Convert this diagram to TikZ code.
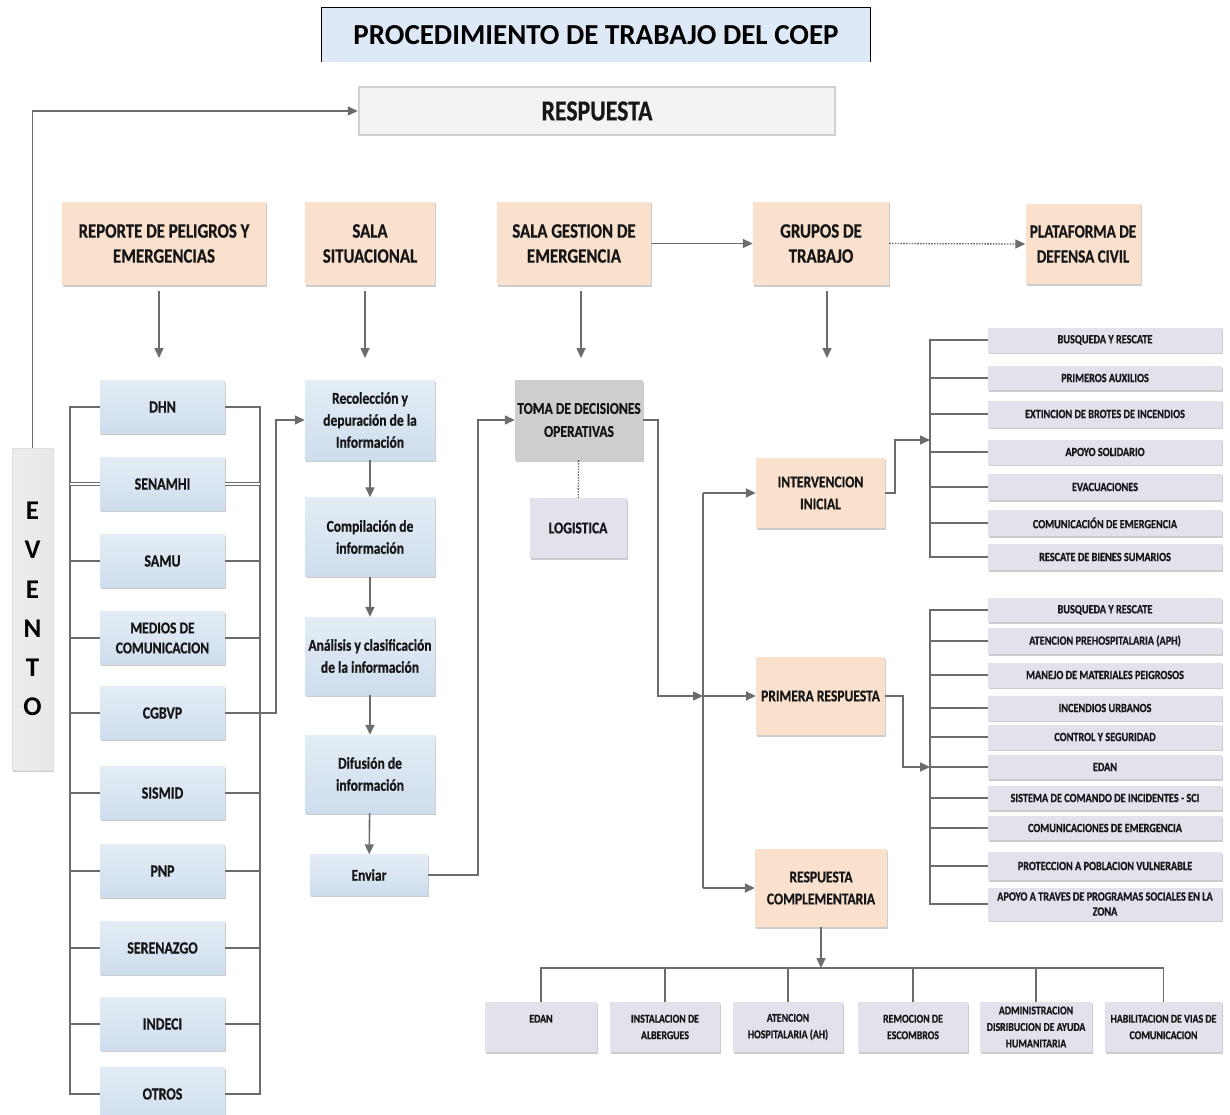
\documentclass[tikz,border=0pt]{standalone}
\usepackage{fontspec}
\setmainfont{Carlito}
\newfontfamily\cn[FakeStretch=0.82,FakeBold=0.6]{Carlito}
\usetikzlibrary{arrows.meta,shadows}
\definecolor{peach}{RGB}{249,225,206}
\definecolor{blueT}{RGB}{228,237,246}
\definecolor{blueB}{RGB}{206,221,237}
\definecolor{lav}{RGB}{228,224,236}
\definecolor{tgrey}{RGB}{206,206,206}
\definecolor{lgrey}{RGB}{243,243,243}
\definecolor{evg}{RGB}{232,232,232}
\definecolor{lnc}{RGB}{108,108,108}
\definecolor{txt}{RGB}{22,22,22}
\definecolor{ttl}{RGB}{221,233,246}
\tikzset{
 nbase/.style={inner sep=0pt, align=center, text=txt, drop shadow={shadow xshift=1.2pt, shadow yshift=-1.5pt, opacity=0.2, fill=black}},
 orangebox/.style={nbase, fill=peach, font=\cn\bfseries\fontsize{20.5}{25}\selectfont},
 srcbox/.style={nbase, top color=blueT, bottom color=blueB, minimum width=125pt, minimum height=53pt, font=\cn\bfseries\fontsize{17}{21}\selectfont},
 procbox/.style={nbase, top color=blueT, bottom color=blueB, minimum width=130pt, font=\cn\bfseries\fontsize{16.5}{22}\selectfont},
 phasebox/.style={nbase, fill=peach, font=\cn\bfseries\fontsize{16.5}{22}\selectfont},
 itembox/.style={nbase, fill=lav, minimum width=234pt, font=\cn\bfseries\fontsize{12.5}{14}\selectfont},
 botbox/.style={nbase, fill=lav, minimum height=50pt, font=\cn\bfseries\fontsize{12}{16.5}\selectfont},
 conn/.style={draw=lnc, line width=1.6pt},
 arr/.style={conn, -{Triangle[length=10pt,width=9pt]}},
 dotconn/.style={draw=lnc, line width=1.3pt, dash pattern=on 1.6pt off 1.2pt},
}
\begin{document}
\begin{tikzpicture}[x=1pt,y=-1pt]
\useasboundingbox (0,0) rectangle (1230,1115);
\fill[white] (0,0) rectangle (1230,1115);

% title
\node[fill=ttl, minimum width=548pt, minimum height=54pt, inner sep=0pt, font=\bfseries\fontsize{29}{32}\selectfont] (title) at (596,35) {PROCEDIMIENTO DE TRABAJO DEL COEP};
\draw[black, line width=0.8pt] (title.south west) -- (title.north west) -- (title.north east) -- (title.south east);

% respuesta
\node[fill=lgrey, draw=black!18, line width=2.5pt, minimum width=476pt, minimum height=48pt, inner sep=0pt, text=txt, font=\cn\bfseries\fontsize{29}{32}\selectfont] (resp) at (597,111) {RESPUESTA};

% evento
\node[nbase, left color=evg!80, right color=evg, draw=black!12, line width=0.6pt, minimum width=41pt, minimum height=322pt, text=black, font=\bfseries\fontsize{27}{39.2}\selectfont] (ev) at (32.5,609) {E\\V\\E\\N\\T\\O};

% top row
\node[orangebox, minimum width=204pt, minimum height=83pt] (rep) at (164,243.5) {REPORTE DE PELIGROS Y\\EMERGENCIAS};
\node[orangebox, minimum width=130pt, minimum height=83pt] (ss) at (370,243.5) {SALA\\SITUACIONAL};
\node[orangebox, minimum width=154pt, minimum height=83pt] (sg) at (574,243.5) {SALA GESTION DE\\EMERGENCIA};
\node[orangebox, minimum width=136pt, minimum height=83pt] (gt) at (821,243.5) {GRUPOS DE\\TRABAJO};
\node[orangebox, minimum width=115pt, minimum height=80pt, font=\cn\bfseries\fontsize{18.5}{25}\selectfont] (pl) at (1083,244) {PLATAFORMA DE\\DEFENSA CIVIL};

\draw[arr] (sg.east) -- (gt.west);
\draw[dotconn, -{Triangle[length=10pt,width=9pt]}] (gt.east) -- (pl.west);

\coordinate (d1) at (159,358);
\coordinate (d2) at (365,358);
\coordinate (d3) at (581,358);
\coordinate (d4) at (827,358);
\draw[arr] (rep.south -| d1) ++(0,6) -- (d1);
\draw[arr] (ss.south -| d2) ++(0,6) -- (d2);
\draw[arr] (sg.south -| d3) ++(0,6) -- (d3);
\draw[arr] (gt.south -| d4) ++(0,6) -- (d4);

\draw[arr] (ev.north) |- (resp.west);

% sources
\node[srcbox] (s1) at (162.5,407) {DHN};
\node[srcbox] (s2) at (162.5,484) {SENAMHI};
\node[srcbox] (s3) at (162.5,561) {SAMU};
\node[srcbox, font=\cn\bfseries\fontsize{16.5}{20}\selectfont] (s4) at (162.5,638) {MEDIOS DE\\COMUNICACION};
\node[srcbox] (s5) at (162.5,713) {CGBVP};
\node[srcbox] (s6) at (162.5,793) {SISMID};
\node[srcbox] (s7) at (162.5,871) {PNP};
\node[srcbox] (s8) at (162.5,948) {SERENAZGO};
\node[srcbox] (s9) at (162.5,1024) {INDECI};
\node[srcbox, minimum height=54pt] (s10) at (162.5,1094) {OTROS};

\coordinate (lbx) at (70,0);
\coordinate (rbx) at (260,0);
\draw[conn] (s1.west) -- (s1.west -| lbx) -- (s10.west -| lbx) -- (s10.west);
\draw[conn] (s1.east) -- (s1.east -| rbx) -- (s10.east -| rbx) -- (s10.east);
\foreach \n in {s3,s4,s6,s7,s8,s9}{
  \draw[conn] (\n.west) -- (\n.west -| lbx);
  \draw[conn] (\n.east) -- (\n.east -| rbx);
}
\draw[conn, line width=1pt, double=white, double distance=2.4pt] (s2.west) -- (s2.west -| lbx);
\draw[conn, line width=1pt, double=white, double distance=2.4pt] (s2.east) -- (s2.east -| rbx);
\draw[conn] (s5.west) -- (s5.west -| lbx);

% process column
\node[procbox, minimum height=80pt] (rec) at (370,420) {Recolección y\\depuración de la\\Información};
\node[procbox, minimum height=79pt] (comp) at (370,537) {Compilación de\\información};
\node[procbox, minimum height=78pt] (anal) at (370,656) {Análisis y clasificación\\de la información};
\node[procbox, minimum height=78pt] (dif) at (370,774) {Difusión de\\información};
\node[procbox, minimum width=118pt, minimum height=41pt] (env) at (369,875) {Enviar};

\draw[arr] (s5.east) -- ++(51,0) |- (rec.west);
\draw[arr] (rec) -- (comp);
\draw[arr] (comp) -- (anal);
\draw[arr] (anal) -- (dif);
\draw[arr] (dif) -- (env);

% decisions
\node[nbase, fill=tgrey, minimum width=128pt, minimum height=80pt, font=\cn\bfseries\fontsize{16.5}{23}\selectfont] (toma) at (579,420) {TOMA DE DECISIONES\\OPERATIVAS};
\node[nbase, fill=lav, minimum width=97pt, minimum height=60pt, font=\cn\bfseries\fontsize{16.5}{22}\selectfont] (logi) at (578,528) {LOGISTICA};
\draw[dotconn] (toma) -- (logi);
\draw[arr] (env.east) -- ++(50,0) |- (toma.west);

% phases
\node[phasebox, minimum width=129pt, minimum height=70pt] (ii) at (820.5,493) {INTERVENCION\\INICIAL};
\node[phasebox, minimum width=129pt, minimum height=78pt] (pr) at (820.5,696) {PRIMERA RESPUESTA};
\node[phasebox, minimum width=132pt, minimum height=78pt] (rc) at (821,888) {RESPUESTA\\COMPLEMENTARIA};

\coordinate (bt) at (703,493);
\coordinate (bm) at (703,696);
\coordinate (bb) at (703,888);
\draw[conn] (bt) -- (bb);
\draw[arr] (toma.east) -- ++(15,0) |- (bm);
\draw[arr] (bt) -- (ii.west);
\draw[arr] (bm) -- (pr.west);
\draw[arr] (bb) -- (rc.west);

% list 1
\node[itembox, minimum height=25pt] (a1) at (1105,340) {BUSQUEDA Y RESCATE};
\node[itembox, minimum height=24pt] (a2) at (1105,378) {PRIMEROS AUXILIOS};
\node[itembox, minimum height=27pt] (a3) at (1105,414) {EXTINCION DE BROTES DE INCENDIOS};
\node[itembox, minimum height=25pt] (a4) at (1105,452) {APOYO SOLIDARIO};
\node[itembox, minimum height=26pt] (a5) at (1105,487) {EVACUACIONES};
\node[itembox, minimum height=26pt] (a6) at (1105,523) {COMUNICACIÓN DE EMERGENCIA};
\node[itembox, minimum height=26pt] (a7) at (1105,557) {RESCATE DE BIENES SUMARIOS};
\coordinate (bx) at (930,0);
\draw[conn] (a1.west) -- (a1.west -| bx) -- (a7.west -| bx) -- (a7.west);
\foreach \n in {a2,a3,a4,a5,a6}{\draw[conn] (\n.west) -- (\n.west -| bx);}
\coordinate (ain) at (930,440);
\draw[arr] (ii.east) -- ++(10,0) |- (ain);

% list 2
\node[itembox, minimum height=24pt] (p1) at (1105,610) {BUSQUEDA Y RESCATE};
\node[itembox, minimum height=26pt] (p2) at (1105,641) {ATENCION PREHOSPITALARIA (APH)};
\node[itembox, minimum height=25pt] (p3) at (1105,675) {MANEJO DE MATERIALES PEIGROSOS};
\node[itembox, minimum height=25pt] (p4) at (1105,708) {INCENDIOS URBANOS};
\node[itembox, minimum height=25pt] (p5) at (1105,737) {CONTROL Y SEGURIDAD};
\node[itembox, minimum height=24pt] (p6) at (1105,767) {EDAN};
\node[itembox, minimum height=24pt] (p7) at (1105,798) {SISTEMA DE COMANDO DE INCIDENTES - SCI};
\node[itembox, minimum height=24pt] (p8) at (1105,828) {COMUNICACIONES DE EMERGENCIA};
\node[itembox, minimum height=28pt] (p9) at (1105,866) {PROTECCION A POBLACION VULNERABLE};
\node[itembox, minimum height=33pt, font=\cn\bfseries\fontsize{12.5}{15}\selectfont] (p10) at (1105,904) {APOYO A TRAVES DE PROGRAMAS SOCIALES EN LA\\ZONA};
\draw[conn] (p1.west) -- (p1.west -| bx) -- (p10.west -| bx) -- (p10.west);
\foreach \n in {p2,p3,p4,p5,p6,p7,p8,p9}{\draw[conn] (\n.west) -- (\n.west -| bx);}
\coordinate (pin) at (930,767);
\draw[arr] (pr.east) -- ++(18,0) |- (pin);

% bottom row
\node[botbox, minimum width=112pt] (b1) at (541,1027) {EDAN\\\phantom{E}};
\node[botbox, minimum width=110pt] (b2) at (665,1027) {INSTALACION DE\\ALBERGUES};
\node[botbox, minimum width=110pt] (b3) at (788,1027) {ATENCION\\HOSPITALARIA (AH)};
\node[botbox, minimum width=110pt] (b4) at (913,1027) {REMOCION DE\\ESCOMBROS};
\node[botbox, minimum width=112pt] (b5) at (1036,1027) {ADMINISTRACION\\DISRIBUCION DE AYUDA\\HUMANITARIA};
\node[botbox, minimum width=117pt] (b6) at (1163.5,1027) {HABILITACION DE VIAS DE\\COMUNICACION};
\coordinate (hb) at (0,968);
\draw[conn] (b1.north) -- (b1.north |- hb) -- (b6.north |- hb) -- (b6.north);
\foreach \n in {b2,b3,b4,b5}{\draw[conn] (\n.north) -- (\n.north |- hb);}
\draw[arr] (rc.south) -- (rc.south |- hb);
\end{tikzpicture}
\end{document}
